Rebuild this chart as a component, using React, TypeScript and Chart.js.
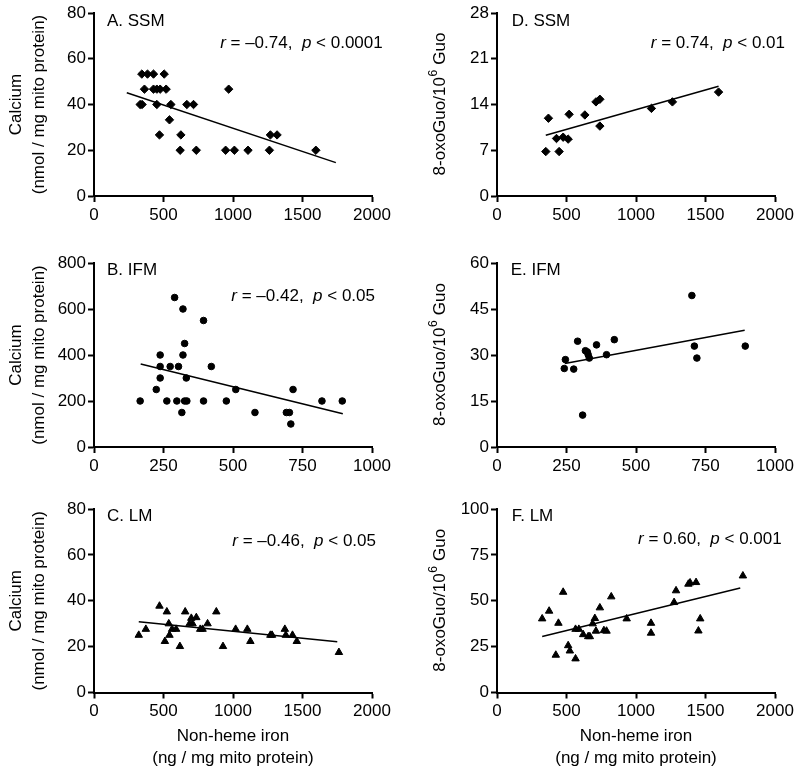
import React, { useEffect, useRef } from 'react';
import { Chart, registerables } from 'chart.js';

Chart.register(...registerables);

const FONT = '"Liberation Sans", Arial, Helvetica, sans-serif';

// ---------- Data ----------
// A. SSM: iron vs calcium
const ironA = [344, 385, 428, 505, 363, 428, 452, 476, 519, 969, 332, 346, 452, 553, 668, 716, 543, 471, 625, 1269, 1317, 620, 736, 947, 1010, 1108, 1262, 1596];
const calciumA = [53.3, 53.3, 53.3, 53.3, 46.7, 46.7, 46.7, 46.7, 46.7, 46.7, 40, 40, 40, 40, 40, 40, 33.3, 26.7, 26.7, 26.7, 26.7, 20, 20, 20, 20, 20, 20, 20];
const fitA_x = [236, 1740];
const fitA_y = [45.1, 14.6];

// D. SSM: iron vs 8-oxoGuo
const ironD = [351, 370, 428, 447, 476, 512, 519, 632, 712, 740, 740, 1111, 1262, 1594];
const oxoD = [6.8, 11.9, 8.8, 6.8, 9.0, 8.7, 12.5, 12.4, 14.4, 14.8, 10.7, 13.4, 14.4, 15.9];
const fitD_x = [351, 1594];
const fitD_y = [9.3, 16.8];

// B. IFM: iron vs calcium
const ironB = [166, 224, 238, 238, 238, 262, 274, 290, 298, 304, 316, 320, 320, 326, 326, 332, 334, 394, 394, 422, 476, 510, 579, 692, 703, 708, 716, 820, 893];
const calciumB = [200, 250, 400, 350, 300, 200, 350, 650, 200, 350, 150, 600, 400, 450, 200, 300, 200, 550, 200, 350, 200, 250, 150, 150, 150, 100, 250, 200, 200];
const fitB_x = [168, 895];
const fitB_y = [361, 145];

// E. IFM: iron vs 8-oxoGuo
const ironE = [242, 246, 276, 290, 308, 318, 325, 328, 332, 358, 394, 422, 701, 710, 719, 893];
const oxoE = [25.6, 28.5, 25.4, 34.5, 10.4, 31.4, 31.0, 30.1, 29.0, 33.3, 30.1, 35.0, 49.4, 32.9, 29.0, 32.9];
const fitE_x = [244, 891];
const fitE_y = [27.2, 38.1];

// C. LM: iron vs calcium
const ironC = [322, 373, 471, 510, 524, 538, 543, 562, 591, 618, 656, 688, 700, 709, 736, 764, 781, 817, 880, 928, 1019, 1103, 1125, 1269, 1281, 1373, 1380, 1428, 1459, 1762];
const calciumC = [25.0, 27.6, 37.7, 22.3, 35.2, 30.0, 25.0, 27.6, 27.6, 20.1, 35.2, 30.0, 32.4, 30.0, 32.7, 27.6, 27.6, 30.0, 35.2, 20.1, 27.6, 27.6, 22.3, 25.0, 25.0, 27.6, 25.0, 25.0, 22.3, 17.5];
const fitC_x = [322, 1750];
const fitC_y = [30.8, 22.1];

// F. LM: iron vs 8-oxoGuo
const ironF = [325, 375, 442, 476, 423, 512, 524, 565, 565, 589, 620, 656, 668, 688, 704, 712, 740, 769, 788, 822, 933, 1108, 1108, 1274, 1288, 1377, 1389, 1432, 1449, 1462, 1769];
const oxoF = [40.2, 44.4, 37.8, 54.7, 20.4, 25.6, 22.7, 18.4, 34.5, 34.5, 31.6, 30.5, 30.5, 37.5, 40.4, 33.5, 46.2, 33.8, 33.5, 52.2, 40.2, 37.8, 32.4, 49.1, 55.5, 59.1, 59.8, 60.0, 33.6, 40.2, 63.6];
const fitF_x = [325, 1750];
const fitF_y = [30.5, 56.9];

// Labels
const calciumTitle = ['Calcium', '(nmol / mg mito protein)'];
const xTitle = ['Non-heme iron', '(ng / mg mito protein)'];

type Part = { t: string; i?: boolean };

type Panel = {
  col: number;
  row: number;
  xs: number[];
  ys: number[];
  fx: number[];
  fy: number[];
  style: string;
  radius: number;
  xMax: number;
  xStep: number;
  yMax: number;
  yStep: number;
  label: string;
  labelOff: [number, number];
  annot: Part[] | null;
  annotOff: [number, number];
  yKind: 'ca' | 'oxo';
};

const panels: Panel[] = [
  { col: 0, row: 0, xs: ironA, ys: calciumA, fx: fitA_x, fy: fitA_y, style: 'rectRot', radius: 4.2, xMax: 2000, xStep: 500, yMax: 80, yStep: 20, label: 'A. SSM', labelOff: [13, 8.7], annot: [{ t: 'r', i: true }, { t: ' = \u20130.74,  ' }, { t: 'p', i: true }, { t: ' < 0.0001' }], annotOff: [10.7, 30], yKind: 'ca' },
  { col: 1, row: 0, xs: ironD, ys: oxoD, fx: fitD_x, fy: fitD_y, style: 'rectRot', radius: 4.2, xMax: 2000, xStep: 500, yMax: 28, yStep: 7, label: 'D. SSM', labelOff: [14.7, 8.7], annot: [{ t: 'r', i: true }, { t: ' = 0.74,  ' }, { t: 'p', i: true }, { t: ' < 0.01' }], annotOff: [10, 30], yKind: 'oxo' },
  { col: 0, row: 1, xs: ironB, ys: calciumB, fx: fitB_x, fy: fitB_y, style: 'circle', radius: 3.3, xMax: 1000, xStep: 250, yMax: 800, yStep: 200, label: 'B. IFM', labelOff: [13, 7], annot: [{ t: 'r', i: true }, { t: ' = \u20130.42,  ' }, { t: 'p', i: true }, { t: ' < 0.05' }], annotOff: [3, 33], yKind: 'ca' },
  { col: 1, row: 1, xs: ironE, ys: oxoE, fx: fitE_x, fy: fitE_y, style: 'circle', radius: 3.3, xMax: 1000, xStep: 250, yMax: 60, yStep: 15, label: 'E. IFM', labelOff: [13.7, 7], annot: null, annotOff: [0, 0], yKind: 'oxo' },
  { col: 0, row: 2, xs: ironC, ys: calciumC, fx: fitC_x, fy: fitC_y, style: 'triangle', radius: 4.3, xMax: 2000, xStep: 500, yMax: 80, yStep: 20, label: 'C. LM', labelOff: [13, 7], annot: [{ t: 'r', i: true }, { t: ' = \u20130.46,  ' }, { t: 'p', i: true }, { t: ' < 0.05' }], annotOff: [4, 32.7], yKind: 'ca' },
  { col: 1, row: 2, xs: ironF, ys: oxoF, fx: fitF_x, fy: fitF_y, style: 'triangle', radius: 4.3, xMax: 2000, xStep: 500, yMax: 100, yStep: 25, label: 'F. LM', labelOff: [14.7, 7], annot: [{ t: 'r', i: true }, { t: ' = 0.60,  ' }, { t: 'p', i: true }, { t: ' < 0.001' }], annotOff: [6.7, 30.7], yKind: 'oxo' },
];

const cols = [
  { left: 0, width: 400, chartLeft: 94, chartRight: 372 },
  { left: 400, width: 400, chartLeft: 97, chartRight: 375 },
];
const rows = [
  { top: 0, height: 250, chartTop: 13, chartBottom: 196 },
  { top: 250, height: 245, chartTop: 13, chartBottom: 197 },
  { top: 495, height: 278, chartTop: 14, chartBottom: 197.5 },
];

function PanelChart({ p }: { p: Panel }) {
  const ref = useRef<HTMLCanvasElement>(null);
  const c = cols[p.col];
  const r = rows[p.row];

  useEffect(() => {
    if (!ref.current) return;
    const isBottom = p.row === 2;
    const textPlugin = {
      id: 'panelText',
      afterDraw(chart: any) {
        const ctx = chart.ctx as CanvasRenderingContext2D;
        const ca = chart.chartArea;
        ctx.save();
        ctx.fillStyle = '#000';
        ctx.textBaseline = 'middle';
        // panel label
        ctx.font = `17px ${FONT}`;
        ctx.textAlign = 'left';
        ctx.fillText(p.label, ca.left + p.labelOff[0], ca.top + p.labelOff[1]);
        // annotation (right aligned)
        if (p.annot) {
          const fonts = p.annot.map((pt) => (pt.i ? `italic 17px ${FONT}` : `17px ${FONT}`));
          const widths = p.annot.map((pt, i) => {
            ctx.font = fonts[i];
            return ctx.measureText(pt.t).width;
          });
          const total = widths.reduce((a, b) => a + b, 0);
          let x = ca.right + p.annotOff[0] - total;
          const y = ca.top + p.annotOff[1];
          p.annot.forEach((pt, i) => {
            ctx.font = fonts[i];
            ctx.fillText(pt.t, x, y);
            x += widths[i];
          });
        }
        // y title
        const cy = (ca.top + ca.bottom) / 2;
        ctx.textAlign = 'left';
        if (p.yKind === 'ca') {
          const xs = [16.7, 39.3];
          calciumTitle.forEach((line, i) => {
            ctx.save();
            ctx.translate(xs[i], cy);
            ctx.rotate(-Math.PI / 2);
            ctx.font = `17px ${FONT}`;
            ctx.textAlign = 'center';
            ctx.fillText(line, 0, 0);
            ctx.restore();
          });
        } else {
          const a = '8-oxoGuo/10';
          const s = '6';
          const b = ' Guo';
          ctx.save();
          ctx.translate(40, cy);
          ctx.rotate(-Math.PI / 2);
          ctx.font = `17px ${FONT}`;
          const wa = ctx.measureText(a).width;
          const wb = ctx.measureText(b).width;
          ctx.font = `12px ${FONT}`;
          const ws = ctx.measureText(s).width;
          let x = -(wa + ws + wb) / 2;
          ctx.font = `17px ${FONT}`;
          ctx.fillText(a, x, 0);
          x += wa;
          ctx.font = `12px ${FONT}`;
          ctx.fillText(s, x + 0.5, -6);
          x += ws + 1;
          ctx.font = `17px ${FONT}`;
          ctx.fillText(b, x, 0);
          ctx.restore();
        }
        // x title
        if (isBottom) {
          const cx = (ca.left + ca.right) / 2;
          ctx.textAlign = 'center';
          ctx.font = `17px ${FONT}`;
          ctx.fillText(xTitle[0], cx, 241.7);
          ctx.fillText(xTitle[1], cx, 263);
        }
        ctx.restore();
      },
    };

    const chart = new Chart(ref.current, {
      type: 'scatter',
      data: {
        datasets: [
          {
            data: p.fx.map((x, i) => ({ x, y: p.fy[i] })),
            showLine: true,
            pointRadius: 0,
            borderColor: '#000',
            borderWidth: 1.5,
            backgroundColor: '#000',
          },
          {
            data: p.xs.map((x, i) => ({ x, y: p.ys[i] })),
            pointStyle: p.style as any,
            pointRadius: p.radius,
            backgroundColor: '#000',
            borderColor: '#000',
            borderWidth: 1,
          },
        ],
      },
      options: {
        responsive: false,
        animation: false,
        devicePixelRatio: 1,
        layout: { padding: { top: r.chartTop, right: c.width - c.chartRight, left: 0, bottom: 0 } },
        plugins: { legend: { display: false }, tooltip: { enabled: false } },
        scales: {
          x: {
            type: 'linear',
            min: 0,
            max: p.xMax,
            afterFit: (s: any) => {
              s.height = r.height - r.chartBottom;
            },
            ticks: {
              stepSize: p.xStep,
              color: '#000',
              font: { family: FONT, size: 17 },
              padding: 3,
              callback: (v: any) => String(v),
            },
            grid: { display: true, drawOnChartArea: false, drawTicks: true, tickLength: 6, tickWidth: 2, tickColor: '#000', color: '#000' },
            border: { display: true, color: '#000', width: 2 },
          },
          y: {
            type: 'linear',
            min: 0,
            max: p.yMax,
            afterFit: (s: any) => {
              s.width = c.chartLeft;
            },
            ticks: {
              stepSize: p.yStep,
              color: '#000',
              font: { family: FONT, size: 17 },
              padding: 2,
              callback: (v: any) => String(v),
            },
            grid: { display: true, drawOnChartArea: false, drawTicks: true, tickLength: 6, tickWidth: 2, tickColor: '#000', color: '#000' },
            border: { display: true, color: '#000', width: 2 },
          },
        },
      },
      plugins: [textPlugin],
    } as any);
    return () => chart.destroy();
  }, []);

  return (
    <canvas
      ref={ref}
      width={c.width}
      height={r.height}
      style={{ position: 'absolute', left: c.left, top: r.top, width: c.width, height: r.height }}
    />
  );
}

export default function App() {
  return (
    <div style={{ position: 'absolute', left: 0, top: 0, width: 800, height: 773, background: '#fff' }}>
      {panels.map((p, i) => (
        <PanelChart key={i} p={p} />
      ))}
    </div>
  );
}
